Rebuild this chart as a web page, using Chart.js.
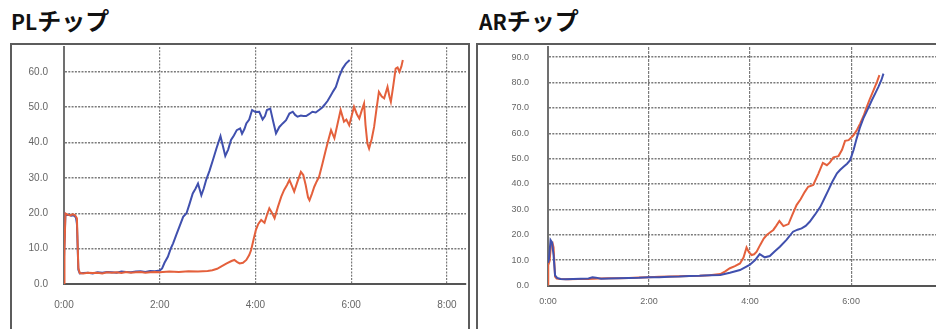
<!DOCTYPE html>
<html>
<head>
<meta charset="utf-8">
<script src="https://cdn.jsdelivr.net/npm/chart.js@4.4.1/dist/chart.umd.min.js"></script>
<style>
  html, body { margin: 0; padding: 0; background: #fff; width: 936px; height: 329px; overflow: hidden; }
  .title { position: absolute; font-family: "Noto Sans CJK JP", sans-serif; font-weight: 700; color: #111; line-height: 1; white-space: nowrap; }
  .title .lat { font-size: 21px; }
  .title .kana { font-size: 24px; }
  .frame { position: absolute; border: 2px solid #5c5c5c; box-sizing: border-box; }
  canvas { position: absolute; }
</style>
</head>
<body>
<div class="title" style="left:11px; top:8px;"><span class="lat">PL</span><span class="kana">チップ</span></div>
<div class="title" style="left:479px; top:8px;"><span class="lat">AR</span><span class="kana">チップ</span></div>
<div class="frame" style="left:10px; top:43px; width:460px; height:320px;"></div>
<div class="frame" style="left:476px; top:43px; width:480px; height:320px;"></div>
<canvas id="pl" width="455" height="290" style="left:12px; top:39px;"></canvas>
<canvas id="ar" width="458" height="290" style="left:478px; top:39px;"></canvas>
<script>
// Elapsed time in minutes, measured values per chip
const plBlueTime = [0, 0.03, 0.06, 0.1, 0.15, 0.2, 0.25, 0.27, 0.3, 0.33, 0.4, 0.5, 0.6, 0.7, 0.8, 0.9, 1.0, 1.1, 1.2, 1.3, 1.4, 1.5, 1.6, 1.7, 1.8, 1.9, 2.0, 2.05, 2.1, 2.17, 2.23, 2.28, 2.35, 2.42, 2.49, 2.56, 2.62, 2.69, 2.75, 2.8, 2.87, 2.92, 2.97, 3.04, 3.11, 3.19, 3.27, 3.32, 3.37, 3.43, 3.49, 3.55, 3.61, 3.68, 3.72, 3.77, 3.81, 3.87, 3.93, 4.0, 4.08, 4.15, 4.2, 4.24, 4.31, 4.37, 4.43, 4.5, 4.57, 4.64, 4.71, 4.78, 4.83, 4.88, 4.95, 5.0, 5.06, 5.12, 5.19, 5.26, 5.33, 5.39, 5.44, 5.51, 5.58, 5.63, 5.68, 5.75, 5.82, 5.89, 5.97];
const plBlueValue = [7.5, 19.8, 19.5, 19.6, 19.3, 19.4, 18.8, 17.0, 4.0, 3.0, 3.1, 3.2, 3.0, 3.3, 3.2, 3.4, 3.3, 3.2, 3.5, 3.4, 3.3, 3.5, 3.6, 3.4, 3.7, 3.6, 3.8, 4.4, 6.0, 7.7, 10.0, 11.5, 14.0, 16.5, 19.0, 20.0, 22.5, 25.6, 27.0, 28.4, 25.1, 27.0, 29.4, 32.0, 35.0, 38.5, 41.8, 39.0, 36.2, 38.0, 40.7, 42.0, 43.5, 44.0, 42.5, 43.8, 45.4, 46.5, 49.2, 48.6, 48.7, 46.5, 47.5, 49.2, 49.6, 46.0, 42.6, 44.4, 45.4, 46.3, 48.2, 48.7, 47.8, 47.3, 47.6, 47.5, 47.5, 48.0, 48.7, 48.5, 49.2, 49.8, 50.6, 51.8, 53.4, 54.6, 55.7, 58.6, 60.9, 62.3, 63.3];

const plRedTime = [0, 0.01, 0.03, 0.08, 0.13, 0.18, 0.23, 0.27, 0.3, 0.33, 0.4, 0.5, 0.6, 0.7, 0.8, 0.9, 1.0, 1.1, 1.2, 1.3, 1.4, 1.5, 1.6, 1.7, 1.8, 1.9, 2.0, 2.2, 2.4, 2.6, 2.8, 3.0, 3.1, 3.2, 3.28, 3.4, 3.5, 3.56, 3.62, 3.67, 3.74, 3.81, 3.87, 3.91, 3.96, 4.01, 4.06, 4.12, 4.19, 4.24, 4.29, 4.35, 4.4, 4.47, 4.54, 4.6, 4.66, 4.71, 4.76, 4.81, 4.88, 4.95, 5.0, 5.05, 5.1, 5.13, 5.18, 5.23, 5.28, 5.33, 5.4, 5.47, 5.53, 5.58, 5.65, 5.72, 5.78, 5.85, 5.9, 5.96, 6.01, 6.06, 6.12, 6.17, 6.22, 6.27, 6.3, 6.34, 6.375, 6.43, 6.48, 6.53, 6.58, 6.64, 6.69, 6.76, 6.8, 6.83, 6.88, 6.93, 6.97, 7.01, 7.05, 7.08];
const plRedValue = [0, 10.0, 19.9, 19.6, 19.4, 19.7, 19.5, 18.6, 4.5, 3.1, 3.0, 3.2, 3.1, 3.2, 3.0, 3.3, 3.2, 3.3, 3.1, 3.4, 3.2, 3.3, 3.4, 3.2, 3.3, 3.4, 3.3, 3.5, 3.4, 3.6, 3.5, 3.7, 3.9, 4.3, 4.9, 5.8, 6.5, 6.8, 6.2, 5.8, 6.0, 6.8, 8.2, 9.6, 12.5, 15.3, 17.0, 18.1, 17.3, 19.5, 21.4, 20.0, 18.6, 21.8, 24.7, 26.6, 28.0, 29.4, 27.8, 26.1, 29.0, 31.7, 30.8, 28.0, 24.5, 23.7, 25.5, 27.5, 29.0, 30.3, 34.0, 37.9, 41.0, 43.5, 41.2, 45.5, 49.2, 45.9, 46.5, 44.9, 47.5, 50.1, 48.0, 46.8, 49.0, 51.0, 45.0, 39.7, 38.3, 41.0, 44.4, 49.5, 54.3, 53.0, 52.5, 55.7, 53.0, 51.5, 56.0, 60.9, 61.2, 60.0, 61.5, 63.3];

const arBlueTime = [0, 0.02, 0.05, 0.08, 0.11, 0.14, 0.18, 0.25, 0.35, 0.5, 0.65, 0.8, 0.88, 0.95, 1.05, 1.2, 1.4, 1.6, 1.8, 2.0, 2.2, 2.4, 2.6, 2.8, 3.0, 3.2, 3.41, 3.6, 3.8, 3.99, 4.1, 4.19, 4.29, 4.39, 4.49, 4.59, 4.72, 4.85, 4.94, 5.02, 5.1, 5.18, 5.28, 5.39, 5.47, 5.55, 5.63, 5.72, 5.78, 5.85, 5.92, 5.98, 6.05, 6.11, 6.17, 6.24, 6.33, 6.41, 6.48, 6.54, 6.6, 6.64];
const arBlueValue = [9.0, 10.5, 17.9, 17.0, 12.0, 4.0, 3.0, 2.6, 2.5, 2.6, 2.7, 2.8, 3.2, 3.1, 2.7, 2.8, 2.9, 3.0, 3.1, 3.3, 3.3, 3.4, 3.5, 3.7, 3.8, 4.0, 4.1, 5.0, 6.1, 8.1, 10.0, 12.4, 11.1, 11.6, 13.5, 15.3, 18.0, 21.2, 22.0, 22.5, 23.5, 25.1, 27.8, 31.0, 34.3, 37.6, 41.0, 44.2, 45.5, 46.8, 48.0, 49.4, 53.5, 58.0, 62.0, 65.8, 69.5, 73.0, 75.8, 78.3, 81.0, 83.5];

const arRedTime = [0, 0.005, 0.03, 0.06, 0.09, 0.11, 0.14, 0.17, 0.25, 0.4, 0.6, 0.8, 1.0, 1.2, 1.4, 1.6, 1.8, 2.0, 2.2, 2.4, 2.6, 2.8, 3.0, 3.2, 3.41, 3.5, 3.6, 3.7, 3.8, 3.87, 3.93, 3.98, 4.03, 4.08, 4.13, 4.2, 4.27, 4.33, 4.4, 4.46, 4.52, 4.58, 4.66, 4.76, 4.84, 4.92, 5.0, 5.08, 5.15, 5.25, 5.35, 5.44, 5.52, 5.58, 5.65, 5.75, 5.82, 5.88, 5.95, 6.05, 6.12, 6.18, 6.25, 6.31, 6.37, 6.43, 6.51, 6.56];
const arRedValue = [0, 8.0, 9.5, 16.0, 16.7, 15.0, 3.5, 2.7, 2.6, 2.5, 2.6, 2.6, 2.8, 2.9, 2.9, 3.0, 3.2, 3.3, 3.4, 3.5, 3.6, 3.7, 3.8, 4.0, 4.5, 5.5, 6.8, 7.6, 8.7, 11.0, 15.0, 13.0, 12.0, 12.3, 13.3, 16.0, 18.5, 19.9, 21.0, 21.9, 23.6, 25.4, 23.4, 24.2, 28.0, 31.7, 34.0, 36.8, 38.9, 39.6, 44.0, 48.3, 47.4, 48.5, 50.5, 51.0, 53.5, 57.0, 57.3, 59.3, 61.5, 63.9, 67.0, 70.4, 73.5, 76.3, 80.2, 82.9];

const BLUE = '#4050ae';
const RED = '#e4603c';

function pairs(ts, vs) { return ts.map((t, i) => ({ x: t, y: vs[i] })); }

function lineSet(data, color) {
  return { data, borderColor: color, borderWidth: 2, pointRadius: 0, tension: 0, fill: false };
}

function makeChart(id, cfg) {
  const gridGray = 'rgba(100,100,100,0.85)';
  return new Chart(document.getElementById(id), {
    type: 'line',
    data: { datasets: cfg.datasets },
    options: {
      responsive: false,
      animation: false,
      events: [],
      layout: { padding: { top: 8, right: cfg.padRight, left: 0, bottom: 0 } },
      plugins: { legend: { display: false }, tooltip: { enabled: false } },
      scales: {
        x: {
          type: 'linear', min: 0, max: cfg.xMax,
          afterBuildTicks: s => { s.ticks = s.ticks.filter(t => Math.abs(t.value % 2) < 1e-9); },
          afterFit: s => { s.height = cfg.xAxisHeight; },
          ticks: {
            stepSize: 2, includeBounds: false, padding: 0, maxRotation: 0, autoSkip: false,
            color: '#666', font: cfg.tickFont,
            callback: v => v + ':00'
          },
          grid: { color: cfg.vGridColor || gridGray, lineWidth: 1.2, drawTicks: true, tickLength: cfg.xGap, tickColor: 'rgba(0,0,0,0)' },
          border: { display: true, color: '#555', width: 2, dash: cfg.vDash }
        },
        y: {
          type: 'linear', min: 0, max: cfg.yMax,
          afterBuildTicks: s => { s.ticks = s.ticks.filter(t => Math.abs(t.value % 10) < 1e-9); },
          afterFit: s => { s.width = cfg.yAxisWidth; },
          ticks: {
            stepSize: 10, includeBounds: false, padding: 0, color: '#666', font: cfg.tickFont,
            callback: v => v.toFixed(1)
          },
          grid: { color: gridGray, lineWidth: 1.4, drawTicks: true, tickLength: cfg.yGap, tickColor: 'rgba(0,0,0,0)' },
          border: { display: true, color: '#707070', width: 2, dash: [2, 1.3] }
        }
      }
    }
  });
}

makeChart('pl', {
  datasets: [lineSet(pairs(plRedTime, plRedValue), RED), lineSet(pairs(plBlueTime, plBlueValue), BLUE)],
  xMax: 8.4, yMax: 67, padRight: 1,
  xAxisHeight: 45, yAxisWidth: 52, xGap: 15, yGap: 16,
  vDash: [2, 1.3],
  tickFont: { family: '"Liberation Sans", sans-serif', size: 10 }
});

makeChart('ar', {
  datasets: [lineSet(pairs(arBlueTime, arBlueValue), BLUE), lineSet(pairs(arRedTime, arRedValue), RED)],
  xMax: 7.68, yMax: 94, padRight: 0,
  xAxisHeight: 43.5, yAxisWidth: 70, xGap: 11, yGap: 19,
  vDash: [3, 1], vGridColor: 'rgba(110,110,110,0.9)',
  tickFont: { family: '"Liberation Sans", sans-serif', size: 9 }
});
</script>
</body>
</html>
